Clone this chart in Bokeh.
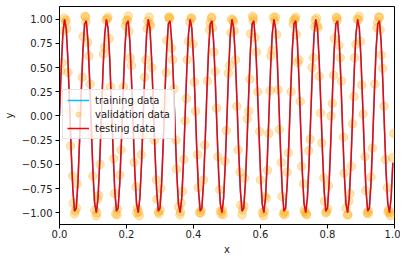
from bokeh.plotting import figure
from bokeh.models import FixedTicker, Legend, LegendItem
from bokeh.embed import file_html
from bokeh.resources import INLINE

# ---- data ----
line_x = [
    0.0, 0.005, 0.01, 0.015, 0.02, 0.025, 0.03, 0.035, 0.04, 0.045, 0.05, 0.055, 0.06, 0.065, 0.07, 0.075, 0.08, 0.085, 0.09, 0.095,
    0.1, 0.105, 0.11, 0.115, 0.12, 0.125, 0.13, 0.135, 0.14, 0.145, 0.15, 0.155, 0.16, 0.165, 0.17, 0.175, 0.18, 0.185, 0.19, 0.195,
    0.2, 0.205, 0.21, 0.215, 0.22, 0.225, 0.23, 0.235, 0.24, 0.245, 0.25, 0.255, 0.26, 0.265, 0.27, 0.275, 0.28, 0.285, 0.29, 0.295,
    0.3, 0.305, 0.31, 0.315, 0.32, 0.325, 0.33, 0.335, 0.34, 0.345, 0.35, 0.355, 0.36, 0.365, 0.37, 0.375, 0.38, 0.385, 0.39, 0.395,
    0.4, 0.405, 0.41, 0.415, 0.42, 0.425, 0.43, 0.435, 0.44, 0.445, 0.45, 0.455, 0.46, 0.465, 0.47, 0.475, 0.48, 0.485, 0.49, 0.495,
    0.5, 0.505, 0.51, 0.515, 0.52, 0.525, 0.53, 0.535, 0.54, 0.545, 0.55, 0.555, 0.56, 0.565, 0.57, 0.575, 0.58, 0.585, 0.59, 0.595,
    0.6, 0.605, 0.61, 0.615, 0.62, 0.625, 0.63, 0.635, 0.64, 0.645, 0.65, 0.655, 0.66, 0.665, 0.67, 0.675, 0.68, 0.685, 0.69, 0.695,
    0.7, 0.705, 0.71, 0.715, 0.72, 0.725, 0.73, 0.735, 0.74, 0.745, 0.75, 0.755, 0.76, 0.765, 0.77, 0.775, 0.78, 0.785, 0.79, 0.795,
    0.8, 0.805, 0.81, 0.815, 0.82, 0.825, 0.83, 0.835, 0.84, 0.845, 0.85, 0.855, 0.86, 0.865, 0.87, 0.875, 0.88, 0.885, 0.89, 0.895,
    0.9, 0.905, 0.91, 0.915, 0.92, 0.925, 0.93, 0.935, 0.94, 0.945, 0.95, 0.955, 0.96, 0.965, 0.97, 0.975, 0.98, 0.985, 0.99, 0.995,
]
line_y = [
    0.0, 0.482, 0.844, 0.998, 0.905, 0.588, 0.125, -0.368, -0.771, -0.982, -0.951, -0.685, -0.249, 0.249, 0.685, 0.951, 0.982, 0.771, 0.368, -0.125, -0.588, -0.905, -0.998, -0.844, -0.482,
    0.0, 0.482, 0.844, 0.998, 0.905, 0.588, 0.125, -0.368, -0.771, -0.982, -0.951, -0.685, -0.249, 0.249, 0.685, 0.951, 0.982, 0.771, 0.368, -0.125, -0.588, -0.905, -0.998, -0.844, -0.482,
    0.0, 0.482, 0.844, 0.998, 0.905, 0.588, 0.125, -0.368, -0.771, -0.982, -0.951, -0.685, -0.249, 0.249, 0.685, 0.951, 0.982, 0.771, 0.368, -0.125, -0.588, -0.905, -0.998, -0.844, -0.482,
    0.0, 0.482, 0.844, 0.998, 0.905, 0.588, 0.125, -0.368, -0.771, -0.982, -0.951, -0.685, -0.249, 0.249, 0.685, 0.951, 0.982, 0.771, 0.368, -0.125, -0.588, -0.905, -0.998, -0.844, -0.482,
    0.0, 0.482, 0.844, 0.998, 0.905, 0.588, 0.125, -0.368, -0.771, -0.982, -0.951, -0.685, -0.249, 0.249, 0.685, 0.951, 0.982, 0.771, 0.368, -0.125, -0.588, -0.905, -0.998, -0.844, -0.482,
    0.0, 0.482, 0.844, 0.998, 0.905, 0.588, 0.125, -0.368, -0.771, -0.982, -0.951, -0.685, -0.249, 0.249, 0.685, 0.951, 0.982, 0.771, 0.368, -0.125, -0.588, -0.905, -0.998, -0.844, -0.482,
    0.0, 0.482, 0.844, 0.998, 0.905, 0.588, 0.125, -0.368, -0.771, -0.982, -0.951, -0.685, -0.249, 0.249, 0.685, 0.951, 0.982, 0.771, 0.368, -0.125, -0.588, -0.905, -0.998, -0.844, -0.482,
    0.0, 0.482, 0.844, 0.998, 0.905, 0.588, 0.125, -0.368, -0.771, -0.982, -0.951, -0.685, -0.249, 0.249, 0.685, 0.951, 0.982, 0.771, 0.368, -0.125, -0.588, -0.905, -0.998, -0.844, -0.482,
]

val_x = [
    0.0039, 0.0117, 0.0137, 0.0176, 0.0195, 0.0254, 0.0332, 0.0410, 0.0449, 0.0469, 0.0527,
    0.0645, 0.0703, 0.0781, 0.0787, 0.0840, 0.0918, 0.0996, 0.1055, 0.1113, 0.1133, 0.1211,
    0.1250, 0.1309, 0.1348, 0.1387, 0.1426, 0.1484, 0.1563, 0.1641, 0.1719, 0.1725, 0.1797,
    0.1914, 0.1973, 0.2031, 0.2070, 0.2109, 0.2148, 0.2227, 0.2305, 0.2324, 0.2363, 0.2441,
    0.2539, 0.2617, 0.2637, 0.2676, 0.2695, 0.2754, 0.2832, 0.2910, 0.2949, 0.2969, 0.3027,
    0.3145, 0.3203, 0.3281, 0.3287, 0.3340, 0.3418, 0.3496, 0.3555, 0.3613, 0.3633, 0.3711,
    0.3750, 0.3809, 0.3848, 0.3887, 0.3926, 0.3984, 0.4063, 0.4141, 0.4219, 0.4225, 0.4297,
    0.4414, 0.4473, 0.4531, 0.4570, 0.4609, 0.4648, 0.4727, 0.4805, 0.4824, 0.4863, 0.4941,
    0.5039, 0.5117, 0.5137, 0.5176, 0.5195, 0.5254, 0.5332, 0.5410, 0.5449, 0.5469, 0.5527,
    0.5645, 0.5703, 0.5781, 0.5787, 0.5840, 0.5918, 0.5996, 0.6055, 0.6113, 0.6133, 0.6211,
    0.6250, 0.6309, 0.6348, 0.6387, 0.6426, 0.6484, 0.6563, 0.6641, 0.6719, 0.6725, 0.6797,
    0.6914, 0.6973, 0.7031, 0.7070, 0.7109, 0.7148, 0.7227, 0.7305, 0.7324, 0.7363, 0.7441,
    0.7539, 0.7617, 0.7637, 0.7676, 0.7695, 0.7754, 0.7832, 0.7910, 0.7949, 0.7969, 0.8027,
    0.8145, 0.8203, 0.8281, 0.8287, 0.8340, 0.8418, 0.8496, 0.8555, 0.8613, 0.8633, 0.8711,
    0.8750, 0.8809, 0.8848, 0.8887, 0.8926, 0.8984, 0.9063, 0.9141, 0.9219, 0.9225, 0.9297,
    0.9414, 0.9473, 0.9531, 0.9570, 0.9609, 0.9648, 0.9727, 0.9805, 0.9824, 0.9863, 0.9941,
    0.0078, 0.0215, 0.0293, 0.0391, 0.0508, 0.0605,
    0.0684, 0.0762, 0.0879, 0.0977, 0.1094, 0.1172,
    0.1289, 0.1445, 0.1523, 0.1621, 0.1680, 0.1836,
    0.1992, 0.2051, 0.2188, 0.2285, 0.2383, 0.2480,
    0.2578, 0.2715, 0.2793, 0.2891, 0.3008, 0.3105,
    0.3184, 0.3262, 0.3379, 0.3477, 0.3594, 0.3672,
    0.3789, 0.3945, 0.4023, 0.4121, 0.4180, 0.4336,
    0.4492, 0.4551, 0.4688, 0.4785, 0.4883, 0.4980,
    0.5078, 0.5215, 0.5293, 0.5391, 0.5508, 0.5605,
    0.5684, 0.5762, 0.5879, 0.5977, 0.6094, 0.6172,
    0.6289, 0.6445, 0.6523, 0.6621, 0.6680, 0.6836,
    0.6992, 0.7051, 0.7188, 0.7285, 0.7383, 0.7480,
    0.7578, 0.7715, 0.7793, 0.7891, 0.8008, 0.8105,
    0.8184, 0.8262, 0.8379, 0.8477, 0.8594, 0.8672,
    0.8789, 0.8945, 0.9023, 0.9121, 0.9180, 0.9336,
    0.9492, 0.9551, 0.9688, 0.9785, 0.9883, 0.9980,
]
val_y = [
    0.47, 0.88, 1.01, 0.97, 0.99, 0.45, -0.31, -0.90, -1.01, -0.98, -0.70,
    0.10, 0.82, 1.02, 0.97, 0.76, 0.33, -0.62, -0.97, -1.00, -0.86, -0.50,
    -0.12, 0.64, 0.71, 0.99, 1.00, 0.80, -0.09, -0.80, -1.02, -0.96, -0.61,
    0.30, 0.93, 0.99, 0.87, 0.60, 0.52, -0.48, -1.00, -0.95, -0.99, -0.40,
    0.40, 0.90, 0.98, 1.02, 0.95, 0.50, -0.25, -0.86, -0.99, -1.01, -0.75,
    0.16, 0.78, 1.00, 1.02, 0.70, 0.28, -0.55, -0.94, -0.99, -0.90, -0.45,
    -0.05, 0.58, 0.77, 0.97, 1.01, 0.74, 0.05, -0.74, -1.00, -0.97, -0.66,
    0.36, 0.89, 1.01, 0.91, 0.66, 0.46, -0.42, -0.98, -1.01, -0.97, -0.47,
    0.44, 0.86, 1.00, 0.99, 0.97, 0.58, -0.35, -0.92, -1.02, -0.97, -0.64,
    0.05, 0.85, 0.98, 1.01, 0.81, 0.25, -0.66, -1.00, -0.98, -0.83, -0.56,
    -0.18, 0.62, 0.68, 1.02, 0.98, 0.84, -0.14, -0.83, -0.99, -1.02, -0.58,
    0.25, 0.95, 1.00, 0.84, 0.55, 0.58, -0.52, -0.97, -0.99, -1.01, -0.36,
    0.50, 0.92, 0.99, 1.01, 0.93, 0.41, -0.28, -0.88, -1.00, -0.99, -0.72,
    0.13, 0.80, 1.01, 0.98, 0.73, 0.36, -0.59, -0.95, -1.02, -0.88, -0.52,
    -0.08, 0.60, 0.74, 1.00, 0.99, 0.77, 0.02, -0.77, -1.01, -0.98, -0.63,
    0.33, 0.91, 1.02, 0.89, 0.63, 0.49, -0.45, -0.99, -0.97, -1.00, -0.43,
    0.55, 0.90, 0.05, -0.62, -0.95, 0.02,
    0.40, 1.03, 0.62, -0.20, -1.03, -0.82,
    0.22, 1.02, 0.30, -0.44, -1.01, -0.35,
    0.98, 1.03, 0.12, -0.73, -1.03, -0.20,
    0.58, 0.93, 0.00, -0.66, -0.97, 0.05,
    0.45, 1.02, 0.58, -0.25, -1.02, -0.78,
    0.18, 1.01, 0.35, -0.40, -1.00, -0.30,
    0.96, 1.02, 0.08, -0.76, -1.02, -0.15,
    0.52, 0.88, 0.10, -0.58, -0.93, -0.03,
    0.38, 1.03, 0.66, -0.16, -1.03, -0.85,
    0.26, 1.02, 0.27, -0.48, -1.01, -0.38,
    0.99, 1.02, 0.15, -0.70, -1.02, -0.24,
    0.60, 0.91, 0.03, -0.64, -0.96, 0.00,
    0.42, 1.02, 0.60, -0.22, -1.02, -0.80,
    0.20, 1.03, 0.32, -0.42, -1.00, -0.33,
    0.97, 1.02, 0.10, -0.74, -1.03, -0.18,
]

x_ticks = [0.0, 0.2, 0.4, 0.6, 0.8, 1.0]
x_tick_labels = ["0.0", "0.2", "0.4", "0.6", "0.8", "1.0"]
y_ticks = [-1.0, -0.75, -0.5, -0.25, 0.0, 0.25, 0.5, 0.75, 1.0]
y_tick_labels = ["\u22121.00", "\u22120.75", "\u22120.50", "\u22120.25", "0.00", "0.25", "0.50", "0.75", "1.00"]

FONT = "DejaVu Sans"

p = figure(frame_width=335, frame_height=218, output_backend="svg", toolbar_location=None,
           x_range=(0, 1), y_range=(-1.12, 1.13),
           min_border_left=51, min_border_right=6, min_border_top=6, min_border_bottom=36)
p.background_fill_color = "white"
p.border_fill_color = "white"
p.outline_line_color = "black"
p.outline_line_width = 1
p.grid.visible = False

r_val = p.scatter(val_x, val_y, size=8.5, marker="circle", fill_color="orange", line_color="orange",
                  fill_alpha=0.3, line_alpha=0.3)
r_train = p.line(line_x, line_y, line_color="deepskyblue", line_width=1.5)
r_test = p.line(line_x, line_y, line_color="red", line_width=1.5)

for ax, ticks, labels in ((p.xaxis[0], x_ticks, x_tick_labels), (p.yaxis[0], y_ticks, y_tick_labels)):
    ax.ticker = FixedTicker(ticks=ticks)
    ax.major_label_overrides = {t: l for t, l in zip(ticks, labels)}
    ax.minor_tick_line_color = None
    ax.major_tick_in = 0
    ax.major_tick_out = 4
    ax.major_tick_line_color = "black"
    ax.axis_line_color = "black"
    ax.major_label_text_font = FONT
    ax.major_label_text_font_size = "10px"
    ax.major_label_text_color = "#222222"
    ax.axis_label_text_font = FONT
    ax.axis_label_text_font_size = "10px"
    ax.axis_label_text_font_style = "normal"
    ax.axis_label_text_color = "#222222"

p.xaxis.major_label_standoff = 1
p.yaxis.major_label_standoff = 3
p.xaxis.axis_label = "x"
p.yaxis.axis_label = "y"
p.xaxis.axis_label_standoff = 3
p.yaxis.axis_label_standoff = 4

legend = Legend(items=[
    LegendItem(label="training data", renderers=[r_train]),
    LegendItem(label="validation data", renderers=[r_val]),
    LegendItem(label="testing data", renderers=[r_test]),
], location=(3, 85))
legend.label_text_font = FONT
legend.label_text_font_size = "10px"
legend.label_text_color = "#222222"
legend.glyph_width = 22
legend.glyph_height = 12
legend.label_height = 12
legend.label_standoff = 6
legend.spacing = 2
legend.padding = 4
legend.margin = 0
legend.border_line_color = "#cccccc"
legend.background_fill_alpha = 0.8
p.add_layout(legend)

open("out.html", "w").write(file_html(p, INLINE))
